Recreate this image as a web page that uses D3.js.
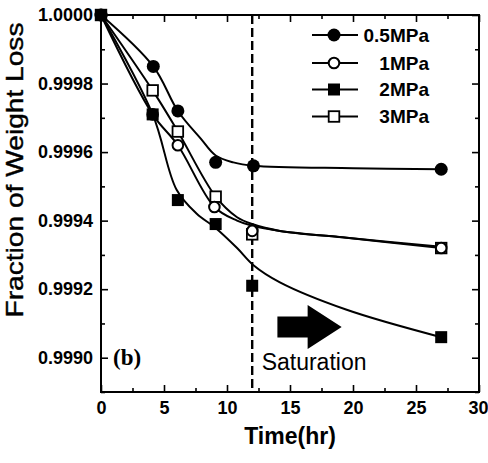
<!DOCTYPE html>
<html><head><meta charset="utf-8">
<script src="https://cdn.jsdelivr.net/npm/d3@7"></script>
<style>body{margin:0;background:#fff} svg{display:block}</style>
</head><body><svg id="c" width="488" height="463"></svg>
<script>
// ---- data ----
const seriesNames = ["0.5MPa", "1MPa", "2MPa", "3MPa"];
const time05 = [0, 4.15, 6.1, 9.1, 12.1, 27];
const val05  = [1.0, 0.99985, 0.99972, 0.99957, 0.99956, 0.99955];
const time1  = [0, 4.1, 6.1, 9.0, 12.0, 27];
const val1   = [1.0, 0.99971, 0.99962, 0.99944, 0.99937, 0.99932];
const time2  = [0, 4.1, 6.1, 9.1, 12.0, 27];
const val2   = [1.0, 0.99971, 0.99946, 0.99939, 0.99921, 0.99906];
const time3  = [0, 4.1, 6.1, 9.1, 12.0, 27];
const val3   = [1.0, 0.99978, 0.99966, 0.99947, 0.99936, 0.99932];
// fitted (guide) curves
const fitT05 = [0, 4.15, 6.1, 7.9, 9.1, 10.5, 12.1, 20, 27];
const fitV05 = [1.0, 0.99985, 0.99972, 0.99964, 0.99959, 0.99957, 0.99956, 0.999553, 0.99955];
const fitT1  = [0, 4.1, 6.1, 9.0, 10.8, 12, 14.2, 19.5, 27];
const fitV1  = [1.0, 0.99971, 0.99962, 0.99944, 0.99940, 0.999385, 0.99937, 0.99935, 0.999324];
const fitT2  = [0, 4.1, 6.0, 7.6, 9.05, 10.8, 12.1, 14.2, 19.5, 27];
const fitV2  = [1.0, 0.99971, 0.99949, 0.99942, 0.99938, 0.99932, 0.99927, 0.99922, 0.99914, 0.99906];
const fitT3  = [0, 4.1, 6.1, 9.1, 10.8, 12, 14.2, 19.5, 27];
const fitV3  = [1.0, 0.99978, 0.99966, 0.99947, 0.99941, 0.99939, 0.99937, 0.99935, 0.99932];
// ticks
const xMajorTicks = [0, 5, 10, 15, 20, 25, 30];
const xMinorTicks = [2.5, 7.5, 12.5, 17.5, 22.5, 27.5];
const yMajorTicks = [0.9990, 0.9992, 0.9994, 0.9996, 0.9998, 1.0000];
const yMinorTicks = [0.9989, 0.9991, 0.9993, 0.9995, 0.9997, 0.9999];
const yTickLabels = ["0.9990", "0.9992", "0.9994", "0.9996", "0.9998", "1.0000"];
const xTickLabels = ["0", "5", "10", "15", "20", "25", "30"];
const xTitle = "Time(hr)";
const yTitle = "Fraction of Weight Loss";
const saturationTime = 12;
const arrowT = [14.0, 16.4, 19.1];
const arrowV = 0.99909;
const satLabel = {t: 12.75, v: 0.998963, text: "Saturation"};
const panelLabel = {t: 0.95, v: 0.99898, text: "(b)"};

// ---- layout ----
const svg = d3.select("#c");
const L = 101, R = 479, T = 15, B = 392;
const x = d3.scaleLinear().domain([0, 30]).range([L, R]);
const y = d3.scaleLinear().domain([0.9989, 1.0000]).range([B, T]);
const font = "'Liberation Sans', Arial, Helvetica, sans-serif";

// frame
svg.append("rect").attr("x", L).attr("y", T).attr("width", R - L).attr("height", B - T)
  .attr("fill", "none").attr("stroke", "#000").attr("stroke-width", 2);

function axisG(axis, tx, ty) {
  const g = svg.append("g").attr("transform", `translate(${tx},${ty})`).call(axis);
  g.select(".domain").remove();
  g.selectAll("line").attr("stroke", "#000").attr("stroke-width", 1.6);
  return g;
}
// bottom
const xb = axisG(d3.axisBottom(x).tickValues(xMajorTicks).tickSize(-7).tickPadding(9)
  .tickFormat((d, i) => xTickLabels[i]), 0, B);
xb.selectAll("text").attr("font-family", font).attr("font-weight", "bold").attr("font-size", 18).attr("fill", "#000")
  .attr("dx", (d, i) => i === xMajorTicks.length - 1 ? -1 : 0);
axisG(d3.axisBottom(x).tickValues(xMinorTicks).tickSize(-4).tickFormat(""), 0, B);
// top
axisG(d3.axisTop(x).tickValues(xMajorTicks).tickSize(-7).tickFormat(""), 0, T);
axisG(d3.axisTop(x).tickValues(xMinorTicks).tickSize(-4).tickFormat(""), 0, T);
// left
const yl = axisG(d3.axisLeft(y).tickValues(yMajorTicks).tickSize(-7).tickPadding(8)
  .tickFormat((d, i) => yTickLabels[i]), L, 0);
yl.selectAll("text").attr("font-family", font).attr("font-weight", "bold").attr("font-size", 18).attr("fill", "#000");
axisG(d3.axisLeft(y).tickValues(yMinorTicks).tickSize(-4).tickFormat(""), L, 0);
// right
axisG(d3.axisRight(y).tickValues(yMajorTicks).tickSize(-7).tickFormat(""), R, 0);
axisG(d3.axisRight(y).tickValues(yMinorTicks).tickSize(-4).tickFormat(""), R, 0);

// axis titles
svg.append("text").attr("x", (x(0) + x(30)) / 2).attr("y", 444).attr("text-anchor", "middle")
  .attr("font-family", font).attr("font-weight", "bold").attr("font-size", 23).text(xTitle);
svg.append("text").attr("transform", `translate(23,170) rotate(-90)`)
  .attr("text-anchor", "middle").attr("font-family", font).attr("font-size", 24)
  .attr("stroke", "#000").attr("stroke-width", 0.4)
  .attr("textLength", 295).attr("lengthAdjust", "spacingAndGlyphs").text(yTitle);

// saturation dashed line
svg.append("line").attr("x1", x(saturationTime)).attr("x2", x(saturationTime))
  .attr("y1", T).attr("y2", B).attr("stroke", "#000").attr("stroke-width", 2.4)
  .attr("stroke-dasharray", "9,4");

// curves
const line = d3.line().x(d => x(d[0])).y(d => y(d[1])).curve(d3.curveCatmullRom.alpha(0.5));
const fits = [[fitT05, fitV05], [fitT3, fitV3], [fitT1, fitV1], [fitT2, fitV2]];
fits.forEach(([tt, vv]) => {
  svg.append("path").datum(tt.map((t, i) => [t, vv[i]])).attr("d", line)
    .attr("fill", "none").attr("stroke", "#000").attr("stroke-width", 2);
});

// markers
function drawMarker(g, type, cx, cy) {
  if (type === "fc") g.append("circle").attr("cx", cx).attr("cy", cy).attr("r", 6.5).attr("fill", "#000");
  else if (type === "oc") g.append("circle").attr("cx", cx).attr("cy", cy).attr("r", 5.3)
    .attr("fill", "#fff").attr("stroke", "#000").attr("stroke-width", 2);
  else if (type === "fs") g.append("rect").attr("x", cx - 6).attr("y", cy - 6).attr("width", 12).attr("height", 12).attr("fill", "#000");
  else if (type === "os") g.append("rect").attr("x", cx - 5.3).attr("y", cy - 5.3).attr("width", 10.6).attr("height", 10.6)
    .attr("fill", "#fff").attr("stroke", "#000").attr("stroke-width", 1.8);
}
const markerTypes = ["fc", "oc", "fs", "os"];
const seriesData = [[time05, val05], [time1, val1], [time2, val2], [time3, val3]];
const drawOrder = [3, 1, 0, 2];
const mg = svg.append("g");
drawOrder.forEach(k => {
  const [tt, vv] = seriesData[k];
  tt.forEach((t, i) => drawMarker(mg, markerTypes[k], x(t), y(vv[i])));
});

// legend
const lg = svg.append("g");
const legY = [35, 63, 89.5, 116.5];
seriesNames.forEach((name, k) => {
  lg.append("line").attr("x1", 312).attr("x2", 358).attr("y1", legY[k]).attr("y2", legY[k])
    .attr("stroke", "#000").attr("stroke-width", 2);
  drawMarker(lg, markerTypes[k], 334, legY[k]);
  lg.append("text").attr("x", 429).attr("y", legY[k] + 6.5).attr("text-anchor", "end")
    .attr("font-family", font).attr("font-weight", "bold").attr("font-size", 19).text(name);
});

// arrow annotation
const ax0 = x(arrowT[0]), ax1 = x(arrowT[1]), ax2 = x(arrowT[2]), ay = y(arrowV);
svg.append("path").attr("d",
  `M${ax0},${ay - 10.5} L${ax1},${ay - 10.5} L${ax1},${ay - 22} L${ax2},${ay} L${ax1},${ay + 22} L${ax1},${ay + 10.5} L${ax0},${ay + 10.5} Z`)
  .attr("fill", "#000");
svg.append("text").attr("x", x(satLabel.t)).attr("y", y(satLabel.v)).attr("font-family", font)
  .attr("font-size", 23).text(satLabel.text);
svg.append("text").attr("x", x(panelLabel.t)).attr("y", y(panelLabel.v))
  .attr("font-family", "'Liberation Serif', 'Times New Roman', serif").attr("font-weight", "bold")
  .attr("font-size", 23).text(panelLabel.text);
</script></body></html>
